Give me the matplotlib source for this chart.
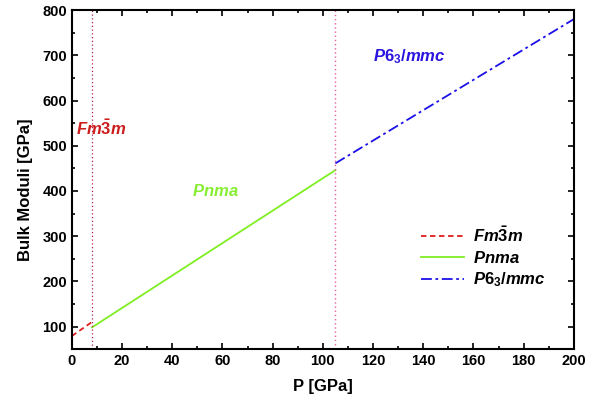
import matplotlib
matplotlib.use("Agg")
import matplotlib.pyplot as plt
from matplotlib.ticker import MultipleLocator

plt.rcParams['font.family'] = ['Liberation Sans', 'DejaVu Sans']
plt.rcParams['font.weight'] = 'bold'
plt.rcParams['mathtext.fontset'] = 'custom'
plt.rcParams['mathtext.it'] = 'Liberation Sans:bold:italic'
plt.rcParams['mathtext.rm'] = 'Liberation Sans:bold'
plt.rcParams['mathtext.bf'] = 'Liberation Sans:bold'

# Data (pressure in GPa, bulk modulus in GPa)
p_fm3m = [0, 8]
b_fm3m = [79, 110]
p_pnma = [8, 105]
b_pnma = [98, 446]
p_p63 = [105, 200]
b_p63 = [461, 780]
transitions = [8, 105]

labels = [r'$\mathit{Fm\bar{3}m}$', r'$\mathit{Pnma}$', r'$\mathit{P6_3/mmc}$']

fig = plt.figure(figsize=(5.94, 4.05), dpi=100)
ax = fig.add_axes([0.121, 0.138, 0.845, 0.837])

ax.plot(p_fm3m, b_fm3m, color='#dd1c1c', linestyle=(0, (3, 2)), lw=1.3, label=labels[0])
ax.plot(p_pnma, b_pnma, color='#7fee22', linestyle='-', lw=1.3, label=labels[1])
ax.plot(p_p63, b_p63, color='#1a10e8', linestyle=(0, (6, 2, 1.5, 2)), lw=1.3, label=labels[2])

ax.axvline(transitions[0], color='#b0204a', linestyle=(0, (1, 2)), lw=0.9)
ax.axvline(transitions[1], color='#e860a0', linestyle=(0, (1, 2)), lw=1.0)

ax.text(1.5, 538, labels[0], color='#cc1c1c', fontsize=12, va='center', ha='left')
ax.text(48, 400, labels[1], color='#88ee33', fontsize=12, va='center', ha='left')
ax.text(120, 698, labels[2], color='#2a14e0', fontsize=12, va='center', ha='left')

ax.set_xlim(0, 200)
ax.set_ylim(50, 800)
ax.xaxis.set_major_locator(MultipleLocator(20))
ax.xaxis.set_minor_locator(MultipleLocator(10))
ax.yaxis.set_major_locator(MultipleLocator(100))
ax.yaxis.set_minor_locator(MultipleLocator(50))
ax.tick_params(which='both', direction='in', top=True, right=True, width=1.2, labelsize=10.5)
ax.tick_params(which='major', length=4.5)
ax.tick_params(which='minor', length=2.5)
for lab in ax.get_xticklabels() + ax.get_yticklabels():
    lab.set_fontweight('bold')
for s in ax.spines.values():
    s.set_linewidth(1.5)

ax.set_xlabel('P [GPa]', fontsize=12, fontweight='bold', labelpad=8)
ax.set_ylabel('Bulk Moduli [GPa]', fontsize=12, fontweight='bold', labelpad=6)
ax.yaxis.set_label_coords(-0.078, 0.469)

leg = ax.legend(loc='center left', bbox_to_anchor=(0.666, 0.271), frameon=False,
                fontsize=12, handlelength=2.6, labelspacing=0.3, handletextpad=0.5)

fig.savefig('out.png', dpi=100)
